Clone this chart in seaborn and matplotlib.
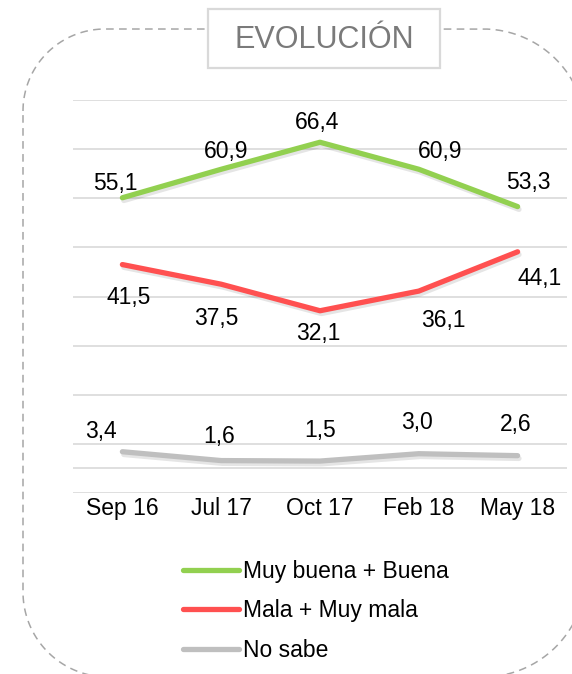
import matplotlib
matplotlib.use("Agg")
import matplotlib.pyplot as plt
import matplotlib.patheffects as pe
from matplotlib.patches import FancyBboxPatch, PathPatch
from matplotlib.path import Path
from matplotlib.lines import Line2D
import seaborn as sns
import pandas as pd
import numpy as np

# datos
periods = ['Sep 16', 'Jul 17', 'Oct 17', 'Feb 18', 'May 18']
buena = [55.1, 60.9, 66.4, 60.9, 53.3]
mala = [41.5, 37.5, 32.1, 36.1, 44.1]
no_sabe = [3.4, 1.6, 1.5, 3.0, 2.6]
series_names = ['Muy buena + Buena', 'Mala + Muy mala', 'No sabe']
colors = ['#92D050', '#FF5050', '#BFBFBF']

df = pd.DataFrame({
    'periodo': periods * 3,
    'valor': buena + mala + no_sabe,
    'serie': [series_names[0]] * 5 + [series_names[1]] * 5 + [series_names[2]] * 5,
})

sns.set_style('white')
plt.rcParams['font.family'] = ['Liberation Sans', 'DejaVu Sans']
plt.rcParams['text.color'] = 'black'
plt.rcParams['xtick.color'] = 'black'

W, H = 572, 674
fig = plt.figure(figsize=(W / 100, H / 100), dpi=100)


def rounded_rect(L, T, R, B, r_tl, r_tr, r_br, r_bl, n=40):
    # marco con esquinas redondeadas (coordenadas en pixeles, y hacia abajo)
    pts = []
    for cx, cy, r, a0 in [(L + r_tl, T + r_tl, r_tl, 180), (R - r_tr, T + r_tr, r_tr, 270),
                          (R - r_br, B - r_br, r_br, 0), (L + r_bl, B - r_bl, r_bl, 90)]:
        ang = np.radians(np.linspace(a0, a0 + 90, n))
        pts += list(zip(cx + r * np.cos(ang), cy + r * np.sin(ang)))
    pts.append(pts[0])
    return Path(pts)


# fondo: marco discontinuo y caja del titulo
bg = fig.add_axes([0, 0, 1, 1])
bg.set_xlim(0, W)
bg.set_ylim(H, 0)
bg.axis('off')
frame = PathPatch(rounded_rect(23, 29, 586, 677, 82, 103, 103, 85),
                  fill=False, edgecolor='#A6A6A6', lw=1.1,
                  linestyle=(0, (5, 3.5)), clip_on=False)
bg.add_patch(frame)
tbox = FancyBboxPatch((208, 9), 440 - 208, 68 - 9, boxstyle='square,pad=0',
                      facecolor='white', edgecolor='#D9D9D9', lw=1.6, zorder=3)
bg.add_patch(tbox)
bg.text(324, 40, 'EVOLUCIÓN', ha='center', va='center', fontsize=22,
        color='#7A7A7A', zorder=4)

# grafico
ax = fig.add_axes([73 / W, 1 - 493 / H, (567 - 73) / W, 393 / H])
ax.set_facecolor('none')
sns.lineplot(data=df, x='periodo', y='valor', hue='serie', palette=colors,
             hue_order=series_names, sort=False, lw=3.8, legend=False, ax=ax,
             zorder=3)
for line in ax.lines:
    line.set_solid_capstyle('round')
    line.set_solid_joinstyle('round')
    line.set_path_effects([pe.SimpleLineShadow(offset=(1, -2), shadow_color='#000000', alpha=0.1),
                           pe.Normal()])

ax.set_xlim(-0.5, 4.5)
ax.set_ylim(-5, 75)
ax.set_yticks(range(-5, 76, 10))
ax.set_yticklabels([])
ax.axhline(0, color='#D9D9D9', lw=1.2, zorder=1)
ax.grid(axis='y', color='#D9D9D9', lw=1.2)
ax.grid(axis='x', visible=False)
ax.tick_params(axis='both', length=0)
ax.tick_params(axis='x', labelsize=16.5, pad=3, labelcolor='black')
ax.set_xlabel('')
ax.set_ylabel('')
for s in ax.spines.values():
    s.set_visible(False)

# etiquetas de datos (desplazamientos en pixeles)
label_offsets = [
    [(-7, 14), (5, 18), (-3, 20), (21, 18), (11, 24)],
    [(6, -33), (-5, -34), (-2, -23), (25, -29), (22, -27)],
    [(-21, 20), (-2, 24), (0, 31), (-2, 31), (-2, 31)],
]
for vals, offs in zip([buena, mala, no_sabe], label_offsets):
    for i, (v, o) in enumerate(zip(vals, offs)):
        ax.annotate(f'{v:.1f}'.replace('.', ','), (i, v), xytext=o,
                    textcoords='offset pixels', ha='center', va='center',
                    fontsize=16.5, color='black', zorder=5)

# leyenda
handles = [Line2D([], [], color=c, lw=3.8, solid_capstyle='round') for c in colors]
leg = fig.legend(handles, series_names, loc='center left',
                 bbox_to_anchor=(183 / W, 1 - 611 / H), frameon=False,
                 fontsize=16.5, handlelength=2.45, handletextpad=0.15,
                 labelspacing=0.72, borderpad=0, borderaxespad=0)
for t in leg.get_texts():
    t.set_color('black')

fig.savefig('out.png', dpi=100)
